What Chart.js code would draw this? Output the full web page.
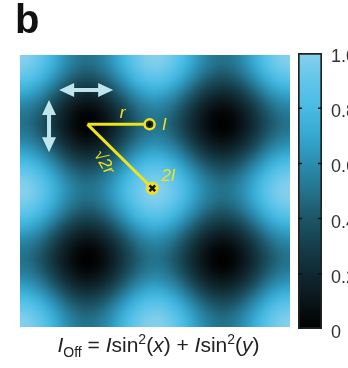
<!DOCTYPE html>
<html>
<head>
<meta charset="utf-8">
<script src="https://cdn.jsdelivr.net/npm/chart.js@4.4.0/dist/chart.umd.min.js"></script>
<style>
  html, body { margin: 0; padding: 0; background: #fff; width: 348px; height: 368px; overflow: hidden; }
  #wrap { position: relative; width: 348px; height: 368px; font-family: "Liberation Sans", Arial, sans-serif; }
  #mapCanvas { position: absolute; left: 0; top: 0; }
  #barCanvas { position: absolute; left: 288px; top: 0; }
  #panel { position: absolute; left: 15px; top: -1px; font-size: 40px; line-height: 40px; font-weight: bold; color: #111; }
  #caption { position: absolute; left: 0; width: 317px; top: 334px; text-align: center; font-size: 21px; line-height: 22px; color: #222; white-space: nowrap; }
  #caption sub, #caption sup { font-size: 14px; line-height: 0; }
</style>
</head>
<body>
<div id="wrap">
  <canvas id="mapCanvas" width="348" height="368"></canvas>
  <canvas id="barCanvas" width="74" height="368"></canvas>
  <div id="panel">b</div>
  <div id="caption"><i>I</i><sub>Off</sub> = <i>I</i>sin<sup>2</sup>(<i>x</i>) + <i>I</i>sin<sup>2</sup>(<i>y</i>)</div>
</div>
<script>
// intensity profile of one term across the map (x and y)
const profileX = [1.00, 0.96, 0.85, 0.69, 0.50, 0.31, 0.15, 0.04, 0.00, 0.04, 0.15, 0.31, 0.50, 0.69, 0.85, 0.96,
                  1.00, 0.96, 0.85, 0.69, 0.50, 0.31, 0.15, 0.04, 0.00, 0.04, 0.15, 0.31, 0.50, 0.69, 0.85, 0.96, 1.00];
const profileY = [1.00, 0.96, 0.85, 0.69, 0.50, 0.31, 0.15, 0.04, 0.00, 0.04, 0.15, 0.31, 0.50, 0.69, 0.85, 0.96,
                  1.00, 0.96, 0.85, 0.69, 0.50, 0.31, 0.15, 0.04, 0.00, 0.04, 0.15, 0.31, 0.50, 0.69, 0.85, 0.96, 1.00];
const phaseRange = [-0.5, 1.5];   // units of pi

// colour scale
const stopValues = [0.00, 0.10, 0.25, 0.40, 0.50, 0.60, 0.70, 0.80, 0.90, 1.00];
const stopColors = ['#000000', '#0a1519', '#12333e', '#1c5566', '#24738d', '#2b8db0', '#36a8d0', '#48bbe4', '#62c5ea', '#86d0ec'];
const colorTicks = [0, 0.2, 0.4, 0.6, 0.8, 1.0];
const colorTickLabels = ['0', '0.2', '0.4', '0.6', '0.8', '1.0'];

// overlay: lines and markers
const rLine = [{x: 0, y: 0.01}, {x: 0.46, y: 0.01}];
const diagLine = [{x: 0, y: 0.01}, {x: 0.48, y: 0.48}];
const pointI = [{x: 0.46, y: 0.01}];
const point2I = [{x: 0.48, y: 0.48}];
const overlayLabels = [
    {text: 'r', x: 0.26, y: -0.07, rot: 0},
    {text: 'I', x: 0.57, y: 0.02, rot: 0},
    {text: '2I', x: 0.60, y: 0.39, rot: 0},
    {text: '\u221A2r', x: 0.12, y: 0.29, rot: 60}
];
const arrows = [
    {x1: -0.21, y1: -0.243, x2: 0.19, y2: -0.243},
    {x1: -0.285, y1: -0.17, x2: -0.285, y2: 0.215}
];

const yellow = '#efe31e';

function hexToRgb(h) {
    return [parseInt(h.slice(1, 3), 16), parseInt(h.slice(3, 5), 16), parseInt(h.slice(5, 7), 16)];
}

function colormap(v) {
    for (let k = 1; k < stopValues.length; k++) {
        if (v <= stopValues[k]) {
            const t = (v - stopValues[k - 1]) / (stopValues[k] - stopValues[k - 1]);
            const a = hexToRgb(stopColors[k - 1]);
            const b = hexToRgb(stopColors[k]);
            return a.map((c, i) => Math.round(c + (b[i] - c) * t));
        }
    }
    return hexToRgb(stopColors[stopColors.length - 1]);
}

// draws the intensity map under the datasets
const heatmapPlugin = {
    id: 'heatmap',
    beforeDatasetsDraw(chart) {
        const {ctx, chartArea, scales: {x, y}} = chart;
        const nx = profileX.length, ny = profileY.length;
        const off = document.createElement('canvas');
        off.width = nx;
        off.height = ny;
        const octx = off.getContext('2d');
        const img = octx.createImageData(nx, ny);
        for (let j = 0; j < ny; j++) {
            for (let i = 0; i < nx; i++) {
                const v = (profileX[i] + profileY[j]) / 2;
                const c = colormap(v);
                const p = (j * nx + i) * 4;
                img.data[p] = c[0];
                img.data[p + 1] = c[1];
                img.data[p + 2] = c[2];
                img.data[p + 3] = 255;
            }
        }
        octx.putImageData(img, 0, 0);
        const sx = (phaseRange[1] - phaseRange[0]) / (nx - 1);
        const sy = (phaseRange[1] - phaseRange[0]) / (ny - 1);
        const left = x.getPixelForValue(phaseRange[0] - sx / 2);
        const right = x.getPixelForValue(phaseRange[1] + sx / 2);
        const top = y.getPixelForValue(phaseRange[0] - sy / 2);
        const bottom = y.getPixelForValue(phaseRange[1] + sy / 2);
        ctx.save();
        ctx.beginPath();
        ctx.rect(chartArea.left, chartArea.top, chartArea.right - chartArea.left, chartArea.bottom - chartArea.top);
        ctx.clip();
        ctx.imageSmoothingEnabled = true;
        ctx.imageSmoothingQuality = 'high';
        ctx.drawImage(off, left, top, right - left, bottom - top);
        ctx.restore();
    }
};

// arrows and yellow labels on top
const overlayPlugin = {
    id: 'overlay',
    afterDatasetsDraw(chart) {
        const {ctx, scales: {x, y}} = chart;
        ctx.save();
        ctx.fillStyle = 'rgba(200, 238, 244, 0.95)';
        arrows.forEach(a => {
            const x1 = x.getPixelForValue(a.x1), y1 = y.getPixelForValue(a.y1);
            const x2 = x.getPixelForValue(a.x2), y2 = y.getPixelForValue(a.y2);
            const ang = Math.atan2(y2 - y1, x2 - x1);
            const len = Math.hypot(x2 - x1, y2 - y1);
            ctx.save();
            ctx.translate(x1, y1);
            ctx.rotate(ang);
            const hl = 15, hw = 7, sw = 2;
            ctx.beginPath();
            ctx.moveTo(0, 0);
            ctx.lineTo(hl, -hw);
            ctx.lineTo(hl, -sw);
            ctx.lineTo(len - hl, -sw);
            ctx.lineTo(len - hl, -hw);
            ctx.lineTo(len, 0);
            ctx.lineTo(len - hl, hw);
            ctx.lineTo(len - hl, sw);
            ctx.lineTo(hl, sw);
            ctx.lineTo(hl, hw);
            ctx.closePath();
            ctx.fill();
            ctx.restore();
        });
        ctx.fillStyle = yellow;
        ctx.font = 'italic 17px "Liberation Sans", Arial, sans-serif';
        ctx.textAlign = 'center';
        ctx.textBaseline = 'middle';
        overlayLabels.forEach(l => {
            ctx.save();
            ctx.translate(x.getPixelForValue(l.x), y.getPixelForValue(l.y));
            ctx.rotate(l.rot * Math.PI / 180);
            ctx.fillText(l.text, 0, 0);
            ctx.restore();
        });
        ctx.restore();
    }
};

new Chart(document.getElementById('mapCanvas'), {
    type: 'scatter',
    data: {
        datasets: [
            {data: rLine, showLine: true, borderColor: yellow, borderWidth: 3, pointRadius: 0, order: 4},
            {data: diagLine, showLine: true, borderColor: yellow, borderWidth: 3, pointRadius: 0, order: 4},
            {data: pointI, pointRadius: 5, borderWidth: 2.5, borderColor: yellow, backgroundColor: '#1c2b30', order: 2},
            {data: pointI, pointRadius: 1.8, borderWidth: 0, backgroundColor: '#000', order: 1},
            {data: point2I, pointRadius: 6.5, borderWidth: 0, backgroundColor: yellow, order: 2},
            {data: point2I, pointStyle: 'crossRot', pointRadius: 4, borderWidth: 2.5, borderColor: '#111', order: 1}
        ]
    },
    options: {
        responsive: false,
        animation: false,
        layout: {padding: {left: 20, right: 58, top: 55, bottom: 41}},
        scales: {
            x: {type: 'linear', min: phaseRange[0], max: phaseRange[1], display: false},
            y: {type: 'linear', min: phaseRange[0], max: phaseRange[1], reverse: true, display: false}
        },
        plugins: {legend: {display: false}, tooltip: {enabled: false}}
    },
    plugins: [heatmapPlugin, overlayPlugin]
});

// small tick marks inside the colour bar
const barTicksPlugin = {
    id: 'barTicks',
    afterDatasetsDraw(chart) {
        const {ctx, chartArea, scales: {y}} = chart;
        ctx.save();
        ctx.strokeStyle = '#111';
        ctx.lineWidth = 1.5;
        colorTicks.forEach(v => {
            if (v === 0 || v === 1) return;
            const py = y.getPixelForValue(v);
            ctx.beginPath();
            ctx.moveTo(chartArea.left, py);
            ctx.lineTo(chartArea.left + 4, py);
            ctx.moveTo(chartArea.right - 4, py);
            ctx.lineTo(chartArea.right, py);
            ctx.stroke();
        });
        ctx.restore();
    }
};

new Chart(document.getElementById('barCanvas'), {
    type: 'bar',
    data: {
        labels: ['scale'],
        datasets: [{
            data: [[0, 1]],
            backgroundColor(context) {
                const chart = context.chart;
                if (!chart.chartArea) return null;
                const ys = chart.scales.y;
                const g = chart.ctx.createLinearGradient(0, ys.getPixelForValue(0), 0, ys.getPixelForValue(1));
                stopValues.forEach((v, i) => g.addColorStop(v, stopColors[i]));
                return g;
            },
            borderColor: '#222',
            borderWidth: 2,
            borderSkipped: false,
            barPercentage: 1,
            categoryPercentage: 1
        }]
    },
    options: {
        responsive: false,
        animation: false,
        layout: {padding: {left: 10, right: 0, top: 53, bottom: 39}},
        scales: {
            x: {display: false},
            y: {
                position: 'right',
                min: 0,
                max: 1,
                afterFit(scale) { scale.width = 40; },
                afterBuildTicks(scale) { scale.ticks = colorTicks.map(v => ({value: v})); },
                grid: {display: false, drawTicks: false},
                border: {display: false},
                ticks: {
                    padding: 9,
                    labelOffset: 4,
                    color: '#333',
                    font: {family: '"Liberation Sans", Arial, sans-serif', size: 18},
                    callback: (v) => colorTickLabels[colorTicks.indexOf(v)]
                }
            }
        },
        plugins: {legend: {display: false}, tooltip: {enabled: false}}
    },
    plugins: [barTicksPlugin]
});
</script>
</body>
</html>
